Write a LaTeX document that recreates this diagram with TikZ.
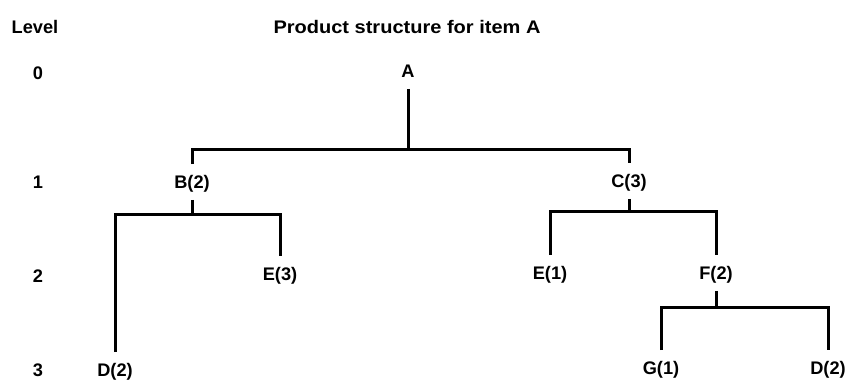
\documentclass[tikz,border=0pt]{standalone}
\usepackage{fontspec}
\setmainfont{Liberation Sans}
\newfontfamily\titlefont{Liberation Sans}[FakeStretch=1.1]
\begin{document}
\begin{tikzpicture}[x=0.75pt,y=-0.75pt,
  every node/.style={font=\fontsize{13.65}{16}\selectfont\bfseries},
  item/.style={inner xsep=2pt, inner ysep=8.25pt, text height=9.8pt, text depth=0pt},
  lvl/.style={inner sep=0pt, text height=9.8pt, text depth=0pt},
  link/.style={line width=2.25pt, line join=miter}]
\useasboundingbox (0,0) rectangle (850,381);

% headings
\node[lvl] (level) at (35,27) {Level};
\node[lvl, font=\fontsize{13.65}{16}\titlefont\bfseries] (title) at (407,27) {Product structure for item A};

% level numbers
\node[lvl] (l0) at (38,73) {0};
\node[lvl] (l1) at (38,182) {1};
\node[lvl] (l2) at (38,276) {2};
\node[lvl] (l3) at (38,370) {3};

% items
\node[item] (A)  at (408,71)  {A};
\node[item] (B)  at (192,182) {B(2)};
\node[item] (C)  at (629,181) {C(3)};
\node[item] (D1) at (115,370) {D(2)};
\node[item] (E3) at (280,274) {E(3)};
\node[item] (E1) at (550,273) {E(1)};
\node[item] (F)  at (716,273) {F(2)};
\node[item] (G)  at (661,368) {G(1)};
\node[item] (D2) at (828,368) {D(2)};

% bar heights
\coordinate (bA) at (0,150);
\coordinate (bB) at (0,215);
\coordinate (bC) at (0,212);
\coordinate (bF) at (0,307);

% connectors
\draw[link] (B.north) |- (A.south |- bA) -| (C.north);
\draw[link] (A.south) -- (A.south |- bA);

\draw[link] (D1.north) |- (B.south |- bB) -| (E3.north);
\draw[link] (B.south) -- (B.south |- bB);

\draw[link] (E1.north) |- (C.south |- bC) -| (F.north);
\draw[link] (C.south) -- (C.south |- bC);

\draw[link] (G.north) |- (F.south |- bF) -| (D2.north);
\draw[link] (F.south) -- (F.south |- bF);
\end{tikzpicture}
\end{document}
